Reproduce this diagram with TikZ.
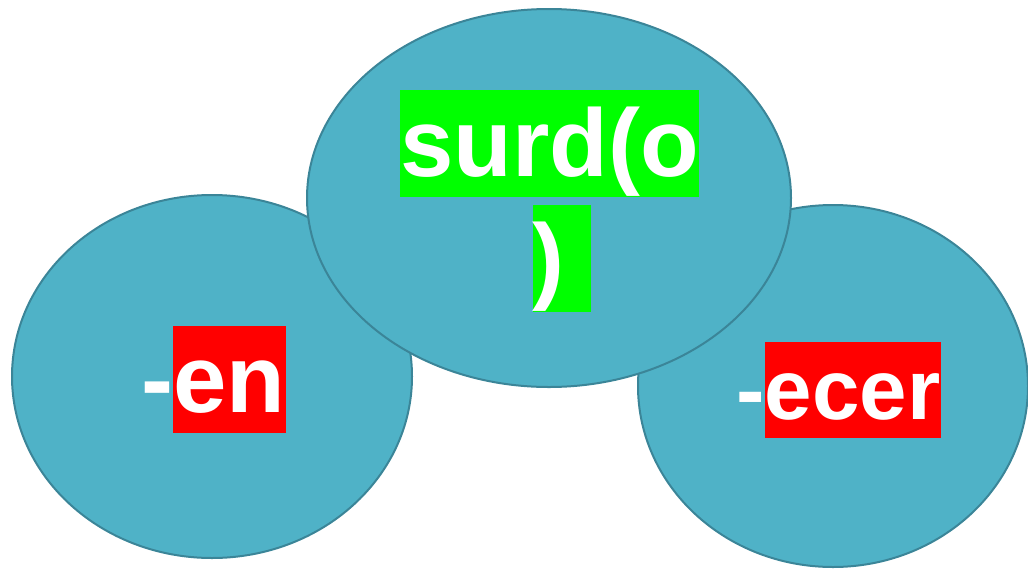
\documentclass[tikz,border=0pt]{standalone}
\usepackage{fontspec}
\setmainfont{Liberation Sans}
\usepackage{tikz}
\usetikzlibrary{shapes.geometric}

\definecolor{blobfill}{HTML}{4FB2C7}
\definecolor{blobline}{HTML}{3B8598}
\definecolor{hlgreen}{HTML}{00FF00}
\definecolor{hlred}{HTML}{FF0000}

\newcommand{\hlbox}[2]{{\fboxsep=0pt\colorbox{#1}{\rule[-0.212em]{0pt}{1.117em}#2}}}

\tikzset{
	blob/.style={ellipse, draw=blobline, fill=blobfill, line width=1.5pt, inner sep=0pt},
	word/.style={inner sep=0pt, text=white, font=\bfseries}
}

\begin{document}
\begin{tikzpicture}[x=0.75pt, y=-0.75pt]
	\useasboundingbox (0,0) rectangle (1028,568);
	
	\node[blob, minimum width=300pt, minimum height=272.25pt] (L) at (212,376.5) {};
	\node[blob, minimum width=292.5pt, minimum height=271.5pt] (R) at (833,386) {};
	\node[blob, minimum width=363pt, minimum height=283.5pt] (T) at (549,198) {};
	
	\node[word, font=\bfseries\fontsize{72}{72}\selectfont] (Tone) at (549.5,143.5) {\hlbox{hlgreen}{surd(o}};
	\node[word, font=\bfseries\fontsize{72}{72}\selectfont] (Ttwo) at (562,258.5) {\hlbox{hlgreen}{)\hspace{0.278em}}};
	\node[word, font=\bfseries\fontsize{72}{72}\selectfont] (Lw) at (213.5,379.5) {-\hlbox{hlred}{en}};
	\node[word, font=\bfseries\fontsize{64}{64}\selectfont] (Rw) at (838.5,390) {-\hlbox{hlred}{ecer}};
\end{tikzpicture}
\end{document}
